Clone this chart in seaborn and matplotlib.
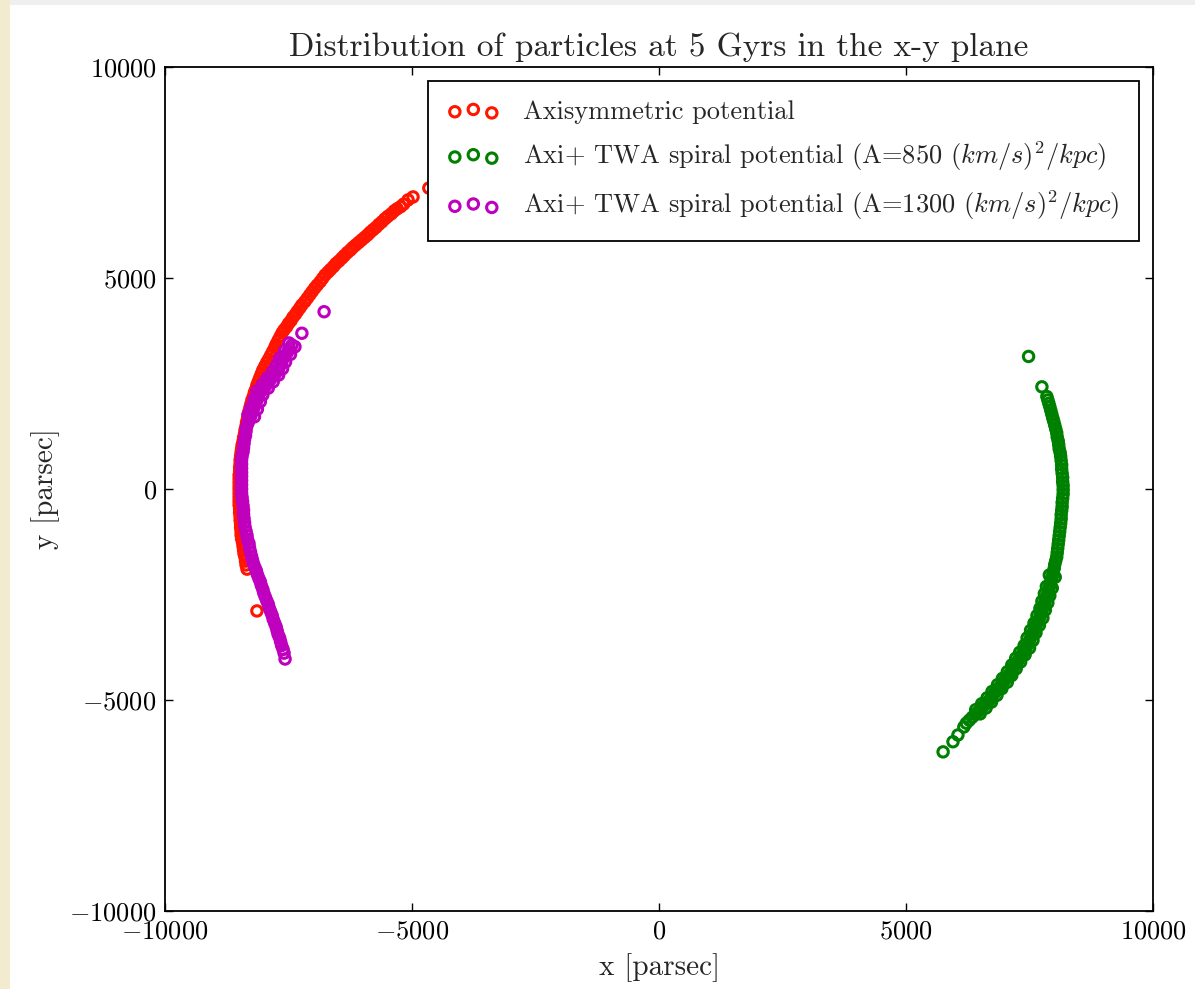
import matplotlib
matplotlib.use('Agg')
import matplotlib.pyplot as plt
from matplotlib.patches import Rectangle
import seaborn as sns

# particle positions at 5 Gyr [pc]
axi_x = [-4660, -4980, -5080, -5170, -5230, -5300, -5360, -5420, -5490, -5550,
         -5610, -5670, -5730, -5790, -5850, -5900, -5960, -6020, -6080, -6140,
         -6200, -6250, -6310, -6370, -6420, -6480, -6540, -6590, -6650, -6700,
         -6760, -6810, -6860, -6920, -6970, -7020, -7070, -7120, -7170, -7230,
         -7270, -7320, -7360, -7410, -7450, -7500, -7540, -7590, -7630, -7670,
         -7710, -7750, -7780, -7820, -7860, -7900, -7940, -7980, -8020, -8050,
         -8080, -8110, -8140, -8160, -8190, -8210, -8240, -8260, -8280, -8300,
         -8320, -8330, -8350, -8360, -8380, -8390, -8410, -8420, -8440, -8450,
         -8460, -8470, -8480, -8480, -8490, -8490, -8500, -8500, -8500, -8500,
         -8500, -8500, -8500, -8500, -8500, -8490, -8490, -8480, -8480, -8470,
         -8470, -8460, -8460, -8450, -8430, -8420, -8410, -8400, -8380, -8370,
         -8360, -8340, -8140]
axi_y = [7130, 6920, 6850, 6750, 6690, 6640, 6590, 6520, 6460, 6400,
         6330, 6270, 6200, 6140, 6080, 6020, 5960, 5900, 5840, 5780,
         5720, 5660, 5600, 5530, 5470, 5400, 5340, 5270, 5200, 5140,
         5070, 4990, 4910, 4830, 4760, 4680, 4600, 4520, 4440, 4360,
         4290, 4210, 4140, 4070, 3990, 3920, 3840, 3770, 3700, 3610,
         3520, 3430, 3350, 3260, 3170, 3080, 3000, 2910, 2820, 2730,
         2640, 2550, 2460, 2370, 2290, 2200, 2110, 2020, 1930, 1840,
         1750, 1660, 1580, 1490, 1400, 1310, 1220, 1130, 1040, 950,
         870, 780, 690, 600, 510, 420, 330, 240, 150, 60,
         -20, -110, -200, -290, -380, -470, -560, -650, -740, -830,
         -910, -1000, -1090, -1180, -1270, -1360, -1450, -1540, -1620, -1710,
         -1800, -1900, -2890]

sp850_x = [7480, 7750, 7850, 7870, 7890, 7910, 7930, 7950, 7970, 7990,
           8010, 8030, 8050, 8060, 8080, 8090, 8100, 8120, 8130, 8140,
           8150, 8150, 8160, 8170, 8170, 8180, 8180, 8180, 8170, 8160,
           8160, 8150, 8140, 8140, 8130, 8120, 8110, 8100, 8090, 8080,
           8070, 8060, 8050, 8030, 8010, 8000, 7980, 7960, 7940, 7920,
           7900, 7880, 7860, 7830, 7810, 7790, 7760, 7740, 7710, 7680,
           7640, 7610, 7580, 7540, 7510, 7480, 7440, 7400, 7360, 7310,
           7270, 7230, 7180, 7140, 7100, 7050, 7000, 6950, 6900, 6840,
           6790, 6740, 6690, 6630, 6570, 6520, 6460, 6400, 6340, 6280,
           6220, 6170, 6050, 5950, 5750,
           8020, 7960, 7910, 7870, 7820, 7770, 7700, 7630, 7570, 7500,
           7410, 7320, 7230, 7140, 7050, 6940, 6840, 6730, 6620, 6500,
           7900, 7840, 7800, 7750, 7710, 7650, 7590, 7520, 7450, 7390,
           7300, 7220, 7140, 7050, 6950, 6850, 6740, 6640, 6530, 6410]
sp850_y = [3140, 2420, 2190, 2110, 2030, 1950, 1860, 1770, 1680, 1600,
           1510, 1420, 1330, 1230, 1140, 1050, 950, 860, 770, 670,
           570, 470, 370, 270, 170, 80, -20, -120, -220, -320,
           -420, -510, -610, -710, -810, -910, -1010, -1110, -1210, -1310,
           -1410, -1510, -1610, -1700, -1790, -1880, -1970, -2070, -2160, -2250,
           -2330, -2420, -2510, -2590, -2680, -2770, -2850, -2940, -3030, -3120,
           -3210, -3300, -3380, -3470, -3560, -3650, -3740, -3820, -3900, -3980,
           -4060, -4140, -4220, -4300, -4380, -4460, -4530, -4610, -4690, -4760,
           -4840, -4920, -5000, -5070, -5140, -5210, -5280, -5340, -5410, -5480,
           -5550, -5640, -5830, -5990, -6230,
           -2090, -2350, -2530, -2700, -2870, -3060, -3230, -3410, -3590, -3770,
           -3930, -4100, -4260, -4420, -4580, -4730, -4890, -5050, -5190, -5330,
           -2040, -2310, -2480, -2660, -2830, -3000, -3180, -3350, -3530, -3710,
           -3870, -4010, -4170, -4330, -4490, -4640, -4800, -4950, -5090, -5230]

sp1300_x = [-6780, -7230, -7430, -7480, -7520, -7570, -7620, -7650, -7680, -7710,
            -7760, -7820, -7870, -7920, -7970, -8020, -8080, -8110, -8140, -8170,
            -8200, -8230, -8260, -8290, -8320, -8350, -8360, -8370, -8390, -8400,
            -8410, -8420, -8440, -8450, -8450, -8450, -8450, -8450, -8450, -8450,
            -8450, -8450, -8440, -8430, -8420, -8410, -8410, -8400, -8390, -8380,
            -8360, -8340, -8330, -8300, -8290, -8270, -8250, -8230, -8210, -8180,
            -8150, -8130, -8100, -8070, -8050, -8020, -8000, -7970, -7940, -7910,
            -7890, -7860, -7830, -7810, -7780, -7750, -7730, -7710, -7680, -7660,
            -7640, -7610, -7590, -7570,
            -7490, -7580, -7680, -7740, -7820, -7930, -8030, -8140, -8200, -8260, -8320,
            -7370, -7460, -7560, -7620, -7700, -7810, -7910, -8020, -8070, -8130, -8190]
sp1300_y = [4200, 3690, 3410, 3320, 3240, 3150, 3060, 2980, 2900, 2820,
            2740, 2660, 2590, 2510, 2430, 2350, 2280, 2190, 2100, 2010,
            1920, 1830, 1740, 1650, 1560, 1470, 1370, 1270, 1180, 1080,
            980, 880, 780, 690, 590, 490, 390, 300, 200, 100,
            0, -100, -200, -300, -400, -500, -600, -700, -800, -900,
            -1000, -1100, -1200, -1290, -1390, -1490, -1590, -1680, -1770, -1860,
            -1940, -2030, -2120, -2200, -2290, -2380, -2470, -2560, -2650, -2730,
            -2820, -2910, -3000, -3090, -3180, -3270, -3360, -3450, -3530, -3620,
            -3710, -3800, -3890, -4030,
            3460, 3280, 3100, 2940, 2790, 2630, 2480, 2320, 2120, 1940, 1760,
            3370, 3190, 3010, 2850, 2700, 2540, 2390, 2230, 2070, 1890, 1710]

labels = ['Axisymmetric potential',
          r'Axi+ TWA spiral potential (A=850 $(km/s)^2/kpc$)',
          r'Axi+ TWA spiral potential (A=1300 $(km/s)^2/kpc$)']
colors = ['#ff1500', '#008000', '#bf00bf']
ticks = [-10000, -5000, 0, 5000, 10000]

sns.set_theme(style='ticks')
plt.rcParams.update({'font.family': 'serif',
                     'font.serif': ['cmr10'],
                     'mathtext.fontset': 'cm',
                     'axes.formatter.use_mathtext': True,
                     'axes.unicode_minus': True})

fig = plt.figure(figsize=(11.95, 9.89), dpi=100)
fig.patch.set_facecolor('white')
# scanned-page edges
fig.add_artist(Rectangle((0, 0), 10 / 1195, 1, transform=fig.transFigure,
                         facecolor='#f2ebcf', edgecolor='none', zorder=0))
fig.add_artist(Rectangle((10 / 1195, 1 - 5 / 989), 1, 5 / 989, transform=fig.transFigure,
                         facecolor='#efefef', edgecolor='none', zorder=0))

ax = fig.add_axes([0.1381, 0.0789, 0.8268, 0.8534])
ax.set_facecolor('white')

series = [(axi_x, axi_y), (sp850_x, sp850_y), (sp1300_x, sp1300_y)]
for (xs, ys), lab, col in zip(series, labels, colors):
    sns.scatterplot(x=xs, y=ys, ax=ax, marker='o', s=56, facecolors='none',
                    edgecolor=col, linewidth=2.2, label=lab)

ax.set_xlim(-10000, 10000)
ax.set_ylim(-10000, 10000)
ax.set_xticks(ticks)
ax.set_yticks(ticks)
ax.tick_params(direction='in', length=6, width=1, top=True, right=True,
               labelsize=19, pad=6, colors='black')
for sp in ax.spines.values():
    sp.set_visible(True)
    sp.set_linewidth(1.3)
    sp.set_color('black')

ax.set_xlabel('x [parsec]', fontsize=21, labelpad=7)
ax.set_ylabel('y [parsec]', fontsize=21, labelpad=7)
ax.set_title('Distribution of particles at 5 Gyrs in the x-y plane', fontsize=24, pad=8)

leg = ax.legend(loc='upper right', scatterpoints=3, scatteryoffsets=[0.375, 0.5, 0.3125],
                fancybox=False, framealpha=1, edgecolor='black', fontsize=19,
                borderaxespad=0.55, borderpad=0.7, handletextpad=0.9,
                labelspacing=0.59, handlelength=2.0)
leg.get_frame().set_linewidth(1.3)

fig.savefig('out.png', dpi=100)
